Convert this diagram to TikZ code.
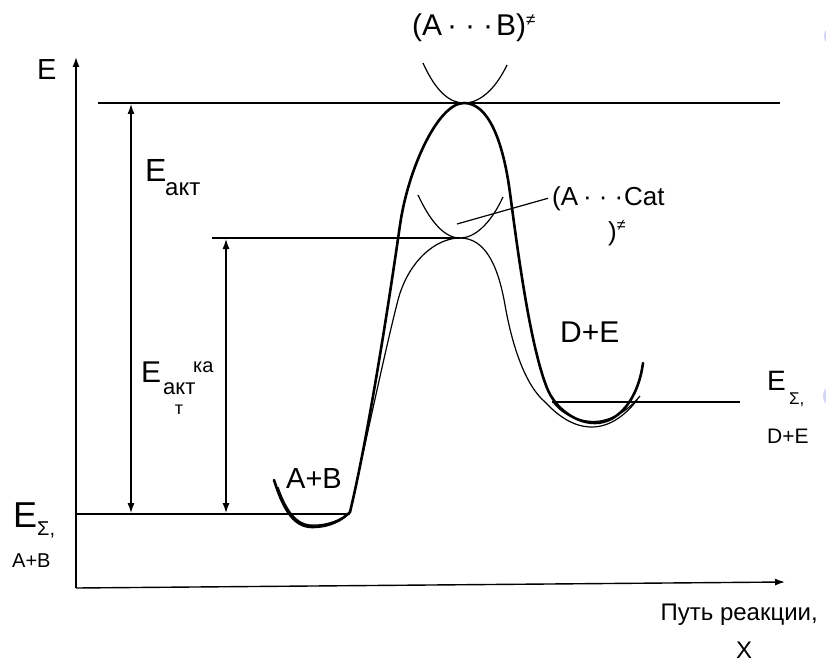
\documentclass[tikz,border=0pt]{standalone}
\usepackage{fontspec}
\setmainfont{Liberation Sans}
\usetikzlibrary{arrows.meta}
\definecolor{lavlite}{HTML}{D4D4F7}
\newcommand{\fsz}[1]{\fontsize{#1}{#1}\selectfont}

\begin{document}
\begin{tikzpicture}[x=1pt,y=-1pt,>={Latex[length=10pt,width=7pt]},
    txt/.style={inner sep=0pt,anchor=base west},
    thinline/.style={line width=1.2pt},
    axisline/.style={line width=1.4pt},
    pathline/.style={line width=2.6pt,line join=round,line cap=round}]
  \useasboundingbox (0,0) rectangle (826,671);
  % axes
  \coordinate (origin) at (76,588);
  \coordinate (ytop) at (76,57);
  \coordinate (xend) at (785,582);
  \draw[axisline,->] (origin) -- (ytop);
  \draw[axisline,->] (origin) -- (xend);
  \node[txt] (eaxis) at (37,80) {\fsz{29}E};
  \node[txt,anchor=base east] (xlbl) at (818,620) {\fsz{24}Путь реакции,};
  \node[txt,anchor=base] (chi) at (744,658) {\fsz{24}X};
  % energy levels
  \coordinate (tsl) at (98,103);   \coordinate (tsr) at (780,103);
  \coordinate (catl) at (212,238); \coordinate (catr) at (460,238);
  \coordinate (basel) at (76,514); \coordinate (baser) at (350,514);
  \coordinate (prodl) at (552,402); \coordinate (prodr) at (740,402);
  \draw[thinline] (tsl) -- (tsr);
  \draw[thinline] (catl) -- (catr);
  \draw[thinline] (basel) -- (baser);
  \draw[thinline] (prodl) -- (prodr);
  % activation energies
  \draw[thinline,<->] (131,104) -- (131,513);
  \draw[thinline,<->] (226,239) -- (226,513);
  \node[txt] (eact) at (145,182) {\fsz{32}E};
  \node[txt] (eactsub) at (165,195) {\fsz{24}акт};
  \node[txt] (ecat) at (141,382) {\fsz{30}E};
  \node[txt] (ecatsub) at (163,394) {\fsz{22}акт};
  \node[txt,anchor=base] (ecatsub2) at (179,414) {\fsz{18}т};
  \node[txt] (ecatsup) at (193,372) {\fsz{20}ка};
  % reaction paths
  \draw[pathline] (274,480) .. controls (282,505) and (292,527) .. (312,527)
    .. controls (330,527) and (342,520) .. (350,512)
    .. controls (365,450) and (385,330) .. (400,225)
    .. controls (408,169) and (438,103) .. (464,103)
    .. controls (488,103) and (503,140) .. (510,193)
    .. controls (518,253) and (530,345) .. (547,388)
    .. controls (555,408) and (575,423) .. (595,423)
    .. controls (618,423) and (638,400) .. (643,363);
  \draw[thinline] (275,482) .. controls (282,508) and (295,526) .. (315,526)
    .. controls (335,526) and (345,518) .. (350,512)
    .. controls (362,460) and (385,350) .. (398,300)
    .. controls (408,262) and (435,238) .. (460,238)
    .. controls (485,238) and (498,265) .. (505,305)
    .. controls (512,345) and (525,385) .. (545,402)
    .. controls (560,418) and (575,427) .. (592,427)
    .. controls (612,427) and (628,412) .. (637,400);
  \draw[thinline] (278,487) .. controls (286,510) and (296,524) .. (310,525)
    .. controls (328,526) and (342,519) .. (349,513);
  \draw[thinline] (553,402) .. controls (565,418) and (585,423) .. (600,421)
    .. controls (618,418) and (632,406) .. (640,396);
  % transition states
  \draw[thinline] (423,63) .. controls (436,92) and (450,103) .. (464,103)
    .. controls (478,103) and (494,92) .. (507,65);
  \draw[thinline] (418,195) .. controls (432,225) and (446,238) .. (460,238)
    .. controls (474,238) and (490,225) .. (503,197);
  \node[txt] (tsab) at (412,36) {\fsz{30}(A\hspace{5pt}·\hspace{8pt}·\hspace{8pt}·\hspace{3pt}B)\raisebox{10pt}{\fsz{17}≠}};
  \node[txt] (tscat) at (552,205) {\fsz{26}(A\hspace{5pt}·\hspace{7pt}·\hspace{7pt}·\hspace{1pt}Cat};
  \node[txt] (tscat2) at (608,240) {\fsz{26})\raisebox{10pt}{\fsz{16}≠}};
  \coordinate (catpt) at (457,224);
  \draw[thinline] (catpt) -- ([xshift=-4pt]tscat.west);
  % species
  \node[txt] (ab) at (286,488) {\fsz{29}A+B};
  \node[txt] (de) at (560,342) {\fsz{30}D+E};
  \node[txt] (esl) at (13,527) {\fsz{36}E};
  \node[txt] (eslsub) at (37,535) {\fsz{20}Σ,};
  \node[txt] (eslab) at (12,567) {\fsz{20}A+B};
  \node[txt] (esr) at (767,390) {\fsz{28}E};
  \node[txt] (esrsub) at (789,404) {\fsz{17}Σ,};
  \node[txt] (esrde) at (767,443) {\fsz{21}D+E};
  % edge marks
  \fill[lavlite] (829,36) ellipse (5 and 8);
  \fill[lavlite] (829,396) ellipse (6 and 9);
\end{tikzpicture}
\end{document}
